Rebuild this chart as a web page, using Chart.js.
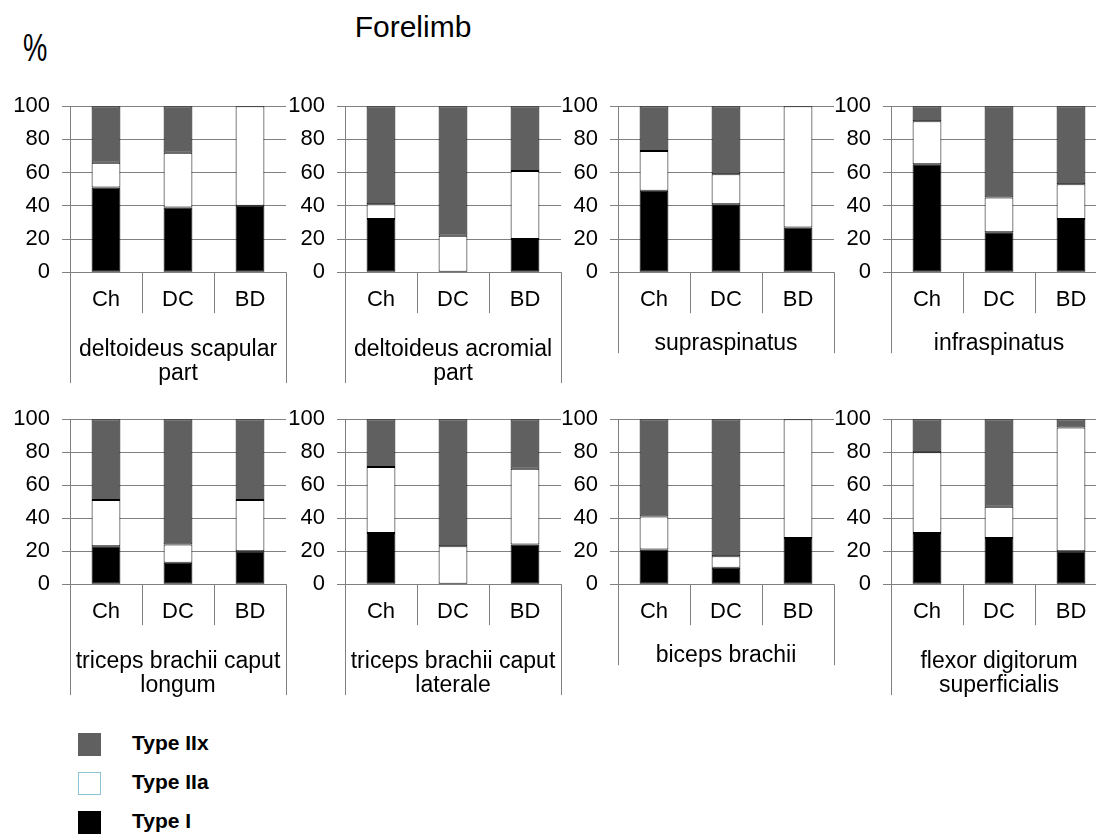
<!DOCTYPE html>
<html>
<head>
<meta charset="utf-8">
<title>Forelimb</title>
<script src="https://cdn.jsdelivr.net/npm/chart.js@4.4.1/dist/chart.umd.min.js"></script>
<style>
  html, body { margin: 0; padding: 0; background: #ffffff; }
  body { width: 1096px; height: 839px; position: relative; overflow: hidden;
         font-family: "Liberation Sans", Arial, sans-serif; color: #000; }
  canvas { position: absolute; }
  .title { position: absolute; left: 0; width: 826px; top: 9px; text-align: center;
           font-size: 30px; line-height: 36px; }
  .unit { position: absolute; left: 23px; top: 26px; font-size: 38px; line-height: 44px;
          transform: scaleX(0.72); transform-origin: left top; }
  .legend { position: absolute; left: 78px; top: 731px; }
  .legend .item { position: relative; height: 39px; width: 200px; }
  .legend .sw { position: absolute; left: 0; top: 2px; width: 23px; height: 23px; box-sizing: border-box; }
  .legend .lbl { position: absolute; left: 54px; top: 0; font-size: 21px; font-weight: bold;
                 line-height: 24px; white-space: nowrap; }
</style>
</head>
<body>
<div class="title">Forelimb</div>
<div class="unit">%</div>
<div class="legend" id="legend"></div>

<script>
// Fibre-type composition (%) per muscle, for each breed group
const categories = ['Ch', 'DC', 'BD'];

const muscles = [
  ['deltoideus scapular', 'part'],
  ['deltoideus acromial', 'part'],
  ['supraspinatus'],
  ['infraspinatus'],
  ['triceps brachii caput', 'longum'],
  ['triceps brachii caput', 'laterale'],
  ['biceps brachii'],
  ['flexor digitorum', 'superficialis']
];

const typeI = [
  [51, 39, 40], [32, 0, 20], [49, 41, 27], [65, 24, 32],
  [23, 13, 20], [31, 0, 24], [21, 10, 28], [31, 28, 20]
];
const typeIIa = [
  [15, 33, 60], [9, 22, 41], [24, 18, 73], [26, 21, 21],
  [28, 11, 31], [40, 23, 46], [20, 7, 72], [49, 19, 75]
];
const typeIIx = [
  [34, 28, 0], [59, 78, 39], [27, 41, 0], [9, 55, 47],
  [49, 76, 49], [29, 77, 30], [59, 83, 0], [20, 53, 5]
];

const yTicks = [0, 20, 40, 60, 80, 100];

const seriesNames = ['Type IIx', 'Type IIa', 'Type I'];
const seriesColors = { 'Type I': '#000000', 'Type IIa': '#ffffff', 'Type IIx': '#606060' };

// panel placement: plot-area left edges per column, plot-area tops per row
const colLeft = [70, 345, 618, 891];
const rowTop = [106, 419];
const plotW = 216;
const plotH = [166, 165];
const axisW = 70;
const xAxisH = 120;
const FONT = '"Liberation Sans", Arial, sans-serif';
const GRID = '#808080';

// Multi-level category frame: dividers under the bars and the muscle name
const categoryFrame = {
  id: 'categoryFrame',
  afterDraw(chart, args, opts) {
    const { ctx, chartArea: a } = chart;
    const xs = chart.scales.x;
    const n = chart.data.labels.length;
    const lines = opts.title || [];
    const outerLen = lines.length > 1 ? 111 : 81;
    ctx.save();
    ctx.strokeStyle = GRID;
    ctx.lineWidth = 1;
    ctx.beginPath();
    for (let k = 0; k <= n; k++) {
      const px = Math.round(xs.getPixelForValue(k - 0.5)) + 0.5;
      const len = (k === 0 || k === n) ? outerLen : 41;
      ctx.moveTo(px, a.bottom);
      ctx.lineTo(px, a.bottom + len);
    }
    ctx.stroke();
    ctx.fillStyle = '#000';
    ctx.font = '23px ' + FONT;
    ctx.textAlign = 'center';
    ctx.textBaseline = 'alphabetic';
    const cx = (a.left + a.right) / 2;
    const first = lines.length > 1 ? 84 : 78;
    lines.forEach((t, i) => ctx.fillText(t, cx, a.bottom + first + i * 24));
    ctx.restore();
  }
};

function makePanel(idx) {
  const row = Math.floor(idx / 4), col = idx % 4;
  const cv = document.createElement('canvas');
  const w = axisW + plotW + 2;
  const h0 = 40 + plotH[row] + xAxisH;
  cv.style.left = (colLeft[col] - axisW) + 'px';
  document.body.appendChild(cv);

  const datasets = [
    { label: 'Type I', data: typeI[idx] },
    { label: 'Type IIa', data: typeIIa[idx] },
    { label: 'Type IIx', data: typeIIx[idx] }
  ].map(d => Object.assign(d, {
    backgroundColor: seriesColors[d.label],
    borderColor: '#000000',
    borderWidth: 1,
    borderSkipped: false,
    barPercentage: 0.4,
    categoryPercentage: 1.0
  }));

  const chart = new Chart(cv, {
    type: 'bar',
    data: { labels: categories, datasets },
    options: {
      responsive: false,
      maintainAspectRatio: false,
      animation: false,
      devicePixelRatio: 1,
      layout: { padding: { top: 0, right: 2, left: 0, bottom: 0 } },
      plugins: {
        legend: { display: false },
        tooltip: { enabled: false },
        categoryFrame: { title: muscles[idx] }
      },
      scales: {
        x: {
          stacked: true,
          offset: true,
          grid: { display: false, drawTicks: false },
          border: { display: false },
          ticks: { color: '#000', font: { family: FONT, size: 22 }, padding: 15, maxRotation: 0 },
          afterFit: s => { s.height = xAxisH; }
        },
        y: {
          stacked: true,
          min: 0, max: 100,
          afterBuildTicks: s => { s.ticks = yTicks.map(v => ({ value: v })); },
          grid: { color: GRID, lineWidth: 1, tickLength: 8, drawTicks: true },
          border: { display: true, color: GRID, width: 1 },
          ticks: { color: '#000', font: { family: FONT, size: 22 }, padding: 12 },
          afterFit: s => { s.width = axisW; }
        }
      }
    },
    plugins: [categoryFrame]
  });
  chart.resize(w, h0);

  // size the canvas so the plot area spans exactly plotH, then place it
  const t = chart.chartArea.top;
  chart.resize(w, t + plotH[row] + xAxisH);
  cv.style.top = (rowTop[row] - t) + 'px';
}

for (let i = 0; i < muscles.length; i++) makePanel(i);

// legend
const lg = document.getElementById('legend');
seriesNames.forEach(name => {
  const it = document.createElement('div');
  it.className = 'item';
  const sw = document.createElement('div');
  sw.className = 'sw';
  sw.style.background = seriesColors[name];
  if (name === 'Type IIa') sw.style.border = '1px solid #8ec3d8';
  const lb = document.createElement('div');
  lb.className = 'lbl';
  lb.textContent = name;
  it.appendChild(sw); it.appendChild(lb);
  lg.appendChild(it);
});
</script>
</body>
</html>
